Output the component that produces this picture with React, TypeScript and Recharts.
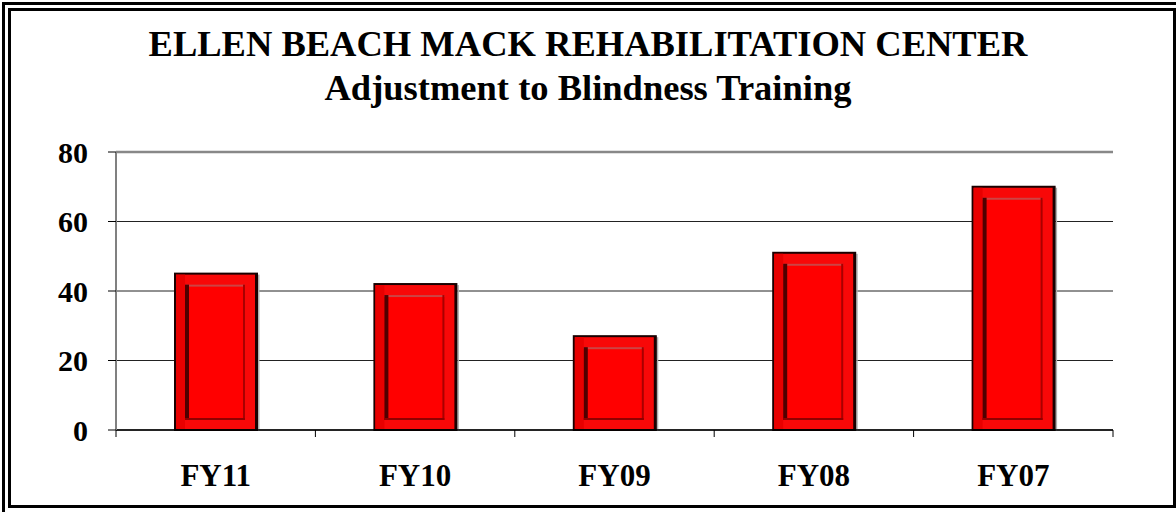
import React from 'react'
import { BarChart, Bar, XAxis, YAxis, CartesianGrid, ReferenceLine } from 'recharts'

const categories = ['FY11', 'FY10', 'FY09', 'FY08', 'FY07']
const trainees = [45, 42, 27, 51, 70]
const yTicks = [0, 20, 40, 60, 80]

const chartData = categories.map((name, i) => ({ name, value: trainees[i] }))

const W = 1176
const H = 512
const PLOT_LEFT = 116
const PLOT_RIGHT = 1113
const BAND = (PLOT_RIGHT - PLOT_LEFT) / categories.length

const font = '"Liberation Serif", "Times New Roman", serif'

function BevelBar(props: any) {
  const { x, y, width, height } = props
  if (!height || height <= 0) return null
  const side = 10
  const top = 11
  const bottom = 10
  const ih = height - top - bottom
  return (
    <g>
      <rect x={x + width + 1} y={y + 1} width={1.5} height={height} fill="#b0b0b0" />
      <rect x={x} y={y} width={width} height={height} fill="#f80808" stroke="#1a0000" strokeWidth={2} />
      <rect x={x + 1} y={y + 1} width={side - 1} height={height - 2} fill="#e80000" />
      <rect x={x + width - 2} y={y} width={2.5} height={height} fill="#1a0000" />
      {ih > 0 && (
        <g>
          <rect x={x + side} y={y + top} width={width - side - 12} height={ih} fill="#ff0000" />
          <rect x={x + side} y={y + top} width={width - side - 12} height={2} fill="#cc4444" />
          <rect x={x + side} y={y + top} width={4} height={ih} fill="#500000" />
          <rect x={x + width - 14} y={y + top} width={2} height={ih} fill="#a80000" />
          <rect x={x + side} y={y + top + ih - 2} width={width - side - 12} height={2} fill="#900000" />
        </g>
      )}
    </g>
  )
}

function CategoryTick(props: any) {
  const { x, y, payload, index } = props
  const left = x - BAND / 2
  return (
    <g>
      <line x1={left} y1={y - 8} x2={left} y2={y - 1} stroke="#000" strokeWidth={1} />
      {index === categories.length - 1 && (
        <line x1={x + BAND / 2} y1={y - 8} x2={x + BAND / 2} y2={y - 1} stroke="#000" strokeWidth={1} />
      )}
      <text x={x} y={y + 48} textAnchor="middle" fontFamily={font} fontWeight="bold" fontSize={31} fill="#000">
        {payload.value}
      </text>
    </g>
  )
}

export default function App() {
  return (
    <div style={{ position: 'absolute', left: 0, top: 0, width: W, height: H, overflow: 'hidden', background: '#fff' }}>
      <div style={{ position: 'absolute', left: 2, top: 2, width: W + 20, height: H + 20, border: '3px solid #000' }} />
      <div style={{ position: 'absolute', left: 8, top: 8, width: W - 8 - 6, height: H - 8 - 10, border: '3px solid #000' }} />
      <div
        style={{
          position: 'absolute', left: 0, top: 22, width: W, textAlign: 'center',
          fontFamily: font, fontWeight: 'bold', fontSize: 36.5, lineHeight: '44px', color: '#000',
        }}
      >
        ELLEN BEACH MACK REHABILITATION CENTER
        <br />
        Adjustment to Blindness Training
      </div>
      <div style={{ position: 'absolute', left: 0, top: 0 }}>
        <BarChart
          width={W}
          height={H}
          data={chartData}
          margin={{ top: 152, right: W - PLOT_RIGHT, left: PLOT_LEFT - 60, bottom: 32 }}
          barSize={82}
        >
          <CartesianGrid horizontal vertical={false} stroke="#222" strokeWidth={1} />
          <XAxis
            dataKey="name"
            height={50}
            axisLine={{ stroke: '#000', strokeWidth: 1.5 }}
            tickLine={false}
            tick={<CategoryTick />}
            interval={0}
          />
          <YAxis
            width={60}
            domain={[0, 80]}
            ticks={yTicks}
            axisLine={{ stroke: '#808080', strokeWidth: 2 }}
            tickLine={{ stroke: '#000' }}
            tickSize={8}
            tickMargin={20}
            tick={{ fontFamily: font, fontWeight: 'bold', fontSize: 30, fill: '#000' }}
          />
          <YAxis
            yAxisId="frame"
            orientation="right"
            width={0}
            domain={[0, 80]}
            tick={false}
            axisLine={{ stroke: '#888', strokeWidth: 2.5 }}
          />
          <ReferenceLine y={80} stroke="#888" strokeWidth={2.5} />
          <Bar dataKey="value" shape={<BevelBar />} isAnimationActive={false} />
        </BarChart>
      </div>
    </div>
  )
}
